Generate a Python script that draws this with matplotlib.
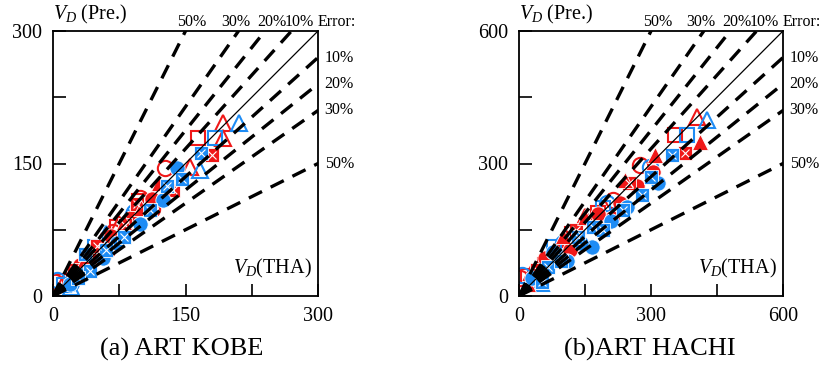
import numpy as np
import matplotlib
matplotlib.use('Agg')
import matplotlib.pyplot as plt

plt.rcParams['font.family'] = ['Liberation Serif', 'DejaVu Serif']
plt.rcParams['mathtext.fontset'] = 'custom'
plt.rcParams['mathtext.rm'] = 'Liberation Serif'
plt.rcParams['mathtext.it'] = 'Liberation Serif:italic'

RED = '#F01818'
BLUE = '#1E8CF5'

errors = [0.1, 0.2, 0.3, 0.5]
error_labels = ['10%', '20%', '30%', '50%']

# ---- (a) ART KOBE : V_D (THA) vs V_D (Pre.)
kobe_max = 300
kobe_ticks = [0, 75, 150, 225, 300]
kobe_ticklabels = ['0', '', '150', '', '300']
kobe_r_oc_x = [2, 27, 61, 68, 99, 112, 127]
kobe_r_oc_y = [16, 29, 52, 73, 111, 98, 145]
kobe_r_os_x = [8, 40, 72, 97, 164]
kobe_r_os_y = [17, 44, 78, 108, 179]
kobe_r_ot_x = [15, 55, 75, 155, 193, 193]
kobe_r_ot_y = [20, 62, 82, 146, 179, 196]
kobe_r_fc_x = [30, 46, 66, 88, 112]
kobe_r_fc_y = [35, 45, 68, 88, 110]
kobe_r_fs_x = [24, 50, 82, 95, 136, 180]
kobe_r_fs_y = [30, 57, 80, 104, 120, 160]
kobe_r_ft_x = [35, 80, 120, 100]
kobe_r_ft_y = [40, 84, 128, 100]
kobe_b_oc_x = [4, 20, 64, 92]
kobe_b_oc_y = [18, 15, 65, 95]
kobe_b_os_x = [12, 48, 183]
kobe_b_os_y = [12, 56, 179]
kobe_b_ot_x = [20, 85, 166, 210, 60]
kobe_b_ot_y = [10, 90, 143, 196, 70]
kobe_b_fc_x = [19, 57, 99, 125, 140, 72, 33]
kobe_b_fc_y = [14, 43, 82, 109, 145, 60, 24]
kobe_b_fs_x = [36, 42, 80, 110, 129, 146, 168, 60, 28]
kobe_b_fs_y = [48, 28, 67, 97, 124, 133, 162, 52, 20]

# ---- (b) ART HACHI
hachi_max = 600
hachi_ticks = [0, 150, 300, 450, 600]
hachi_ticklabels = ['0', '', '300', '', '600']
hachi_r_oc_x = [2, 90, 214, 275, 150]
hachi_r_oc_y = [40, 100, 217, 297, 160]
hachi_r_os_x = [20, 60, 180, 355, 120]
hachi_r_os_y = [45, 70, 187, 365, 140]
hachi_r_ot_x = [30, 150, 404, 110]
hachi_r_ot_y = [55, 180, 406, 130]
hachi_r_fc_x = [59, 116, 211, 230, 268, 305, 180, 35]
hachi_r_fc_y = [85, 104, 176, 210, 248, 281, 185, 40]
hachi_r_fs_x = [40, 130, 377, 250]
hachi_r_fs_y = [60, 150, 323, 255]
hachi_r_ft_x = [20, 100, 150, 309, 411, 240]
hachi_r_ft_y = [28, 135, 180, 319, 349, 262]
hachi_b_oc_x = [6, 100, 298, 200]
hachi_b_oc_y = [47, 119, 293, 210]
hachi_b_os_x = [80, 190, 381]
hachi_b_os_y = [110, 200, 365]
hachi_b_ot_x = [50, 427]
hachi_b_ot_y = [30, 399]
hachi_b_fc_x = [29, 78, 165, 245, 317, 140, 210, 110]
hachi_b_fc_y = [40, 100, 112, 202, 255, 120, 170, 80]
hachi_b_fs_x = [52, 67, 135, 169, 237, 279, 347, 300, 190, 95]
hachi_b_fs_y = [32, 66, 134, 157, 195, 229, 319, 270, 150, 80]


def series(prefix):
    g = globals()
    out = []
    for key, color, marker, filled in [
            ('r_oc', RED, 'o', False), ('r_os', RED, 's', False),
            ('r_ot', RED, '^', False), ('b_oc', BLUE, 'o', False),
            ('b_os', BLUE, 's', False), ('b_ot', BLUE, '^', False),
            ('r_fc', RED, 'o', True), ('r_fs', RED, 's', True),
            ('r_ft', RED, '^', True), ('b_fc', BLUE, 'o', True),
            ('b_fs', BLUE, 's', True)]:
        out.append((g[prefix + key + '_x'], g[prefix + key + '_y'],
                    color, marker, filled))
    return out


def draw(ax, data, vmax, ticks, ticklabels):
    sizes = {'o': 11, 's': 10.5, '^': 12}
    for x, y, color, marker, filled in data:
        if filled:
            ax.plot(x, y, ls='none', marker=marker, ms=sizes[marker],
                    mfc=color, mec='white', mew=0.6, zorder=2)
            if marker == 's':
                ax.plot(x, y, ls='none', marker='x', ms=6, mec='white',
                        mew=0.8, zorder=2.1)
        else:
            ax.plot(x, y, ls='none', marker=marker, ms=sizes[marker],
                    mfc='none', mec=color, mew=1.5, zorder=2)

    t = np.array([0, vmax * 2])
    ax.plot(t, t, color='black', lw=0.9, zorder=4)
    for e in errors:
        for s in (1 / (1 - e), 1 - e):
            ax.plot(t, s * t, color='black', lw=2.4,
                    ls=(0, (4.4, 2.9)), zorder=4)

    ax.set_xlim(0, vmax)
    ax.set_ylim(0, vmax)
    ax.set_xticks(ticks)
    ax.set_xticklabels(ticklabels)
    ax.set_yticks(ticks)
    ax.set_yticklabels(ticklabels)
    ax.tick_params(direction='in', length=9, width=1.2, labelsize=14.5,
                   pad=8, top=False, right=False)
    for sp in ax.spines.values():
        sp.set_linewidth(1.3)

    tr = ax.transAxes
    for lab, xf in zip(['50%', '30%', '20%', '10%'], [0.525, 0.69, 0.825, 0.928]):
        ax.text(xf, 1.035, lab, transform=tr, ha='center', va='center',
                fontsize=11.5)
    ax.text(1.0, 1.035, 'Error:', transform=tr, ha='left', va='center',
            fontsize=11.5)
    for e, lab in zip(errors, error_labels):
        ax.text(1.025, 1 - e, lab, transform=tr, ha='left', va='center',
                fontsize=11.5)
    ax.text(0.0, 1.02, r'$V_D$ (Pre.)', transform=tr, ha='left',
            va='bottom', fontsize=14.5)
    ax.text(0.975, 0.105, r'$V_D$(THA)', transform=tr, ha='right',
            va='center', fontsize=14.5, zorder=5)


fig = plt.figure(figsize=(8.21, 3.70), dpi=100)
ax1 = fig.add_axes([53 / 821, 74 / 370, 265 / 821, 265 / 370])
ax2 = fig.add_axes([519 / 821, 74 / 370, 264 / 821, 265 / 370])

draw(ax1, series('kobe_'), kobe_max, kobe_ticks, kobe_ticklabels)
draw(ax2, series('hachi_'), hachi_max, hachi_ticks, hachi_ticklabels)

fig.text(182 / 821, 1 - 349 / 370, '(a) ART KOBE', ha='center', va='center',
         fontsize=19)
fig.text(650 / 821, 1 - 349 / 370, '(b)ART HACHI', ha='center', va='center',
         fontsize=19)

fig.savefig('out.png', dpi=100)
